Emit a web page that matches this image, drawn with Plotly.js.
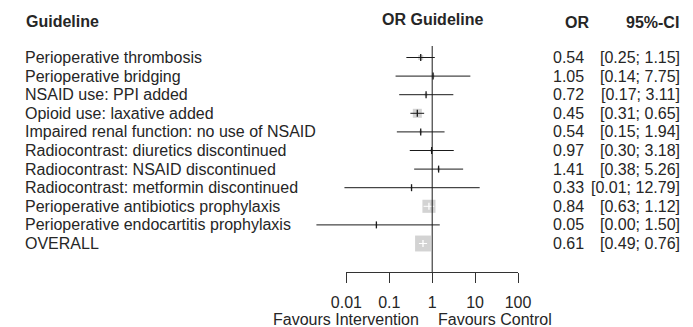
<!DOCTYPE html>
<html>
<head>
<meta charset="utf-8">
<script src="https://cdn.plot.ly/plotly-3.0.1.min.js"></script>
<style>html,body{margin:0;padding:0;background:#fff;}#chart{width:693px;height:327px;}</style>
</head>
<body>
<div id="chart"></div>
<script>
// ---- data ----
const labels = [
  "Perioperative thrombosis",
  "Perioperative bridging",
  "NSAID use: PPI added",
  "Opioid use: laxative added",
  "Impaired renal function: no use of NSAID",
  "Radiocontrast: diuretics discontinued",
  "Radiocontrast: NSAID discontinued",
  "Radiocontrast: metformin discontinued",
  "Perioperative antibiotics prophylaxis",
  "Perioperative endocartitis prophylaxis",
  "OVERALL"
];
const orValues = [0.54, 1.05, 0.72, 0.45, 0.54, 0.97, 1.41, 0.33, 0.84, 0.05, 0.61];
const ciLower  = [0.25, 0.14, 0.17, 0.31, 0.15, 0.30, 0.38, 0.009, 0.63, 0.002, 0.49];
const ciUpper  = [1.15, 7.75, 3.11, 0.65, 1.94, 3.18, 5.26, 12.79, 1.12, 1.50, 0.76];
const weights  = [2.8, 1, 1, 9, 1, 1, 1, 0.45, 19, 0.45, 28];
const tickVals = [0.01, 0.1, 1, 10, 100];
const tickText = ["0.01", "0.1", "1", "10", "100"];

// ---- geometry helpers (pixel layout of the figure) ----
const W = 693, H = 327;
const PX_PER_DEC = 42.9, X_ONE = 432.2;      // pixel of OR=1
const ROW1_Y = 57.5, ROW_STEP = 18.6;
const px = x => x / W;
const py = y => 1 - y / H;
const rowOf = y => 1 + (y - ROW1_Y) / ROW_STEP;
const rows = labels.map((_, i) => i + 1);
const boxSize = weights.map(w => 3 * Math.sqrt(w));
const inside = ciLower.map((lo, i) => Math.log10(ciUpper[i] / lo) * PX_PER_DEC < boxSize[i]);

const FONT = "Liberation Sans, Arial, sans-serif";
const TXT = "#262626";

// ---- traces ----
const traces = [];
// boxes
traces.push({
  type: "scatter", mode: "markers", x: orValues, y: rows,
  marker: {symbol: "square", size: boxSize, color: "#c0c0c0", line: {width: 0}},
  hoverinfo: "skip", showlegend: false
});
// CI lines (black outside, white when inside the box)
function ciTrace(sel, color) {
  const xs = [], ys = [];
  rows.forEach((r, i) => { if (sel(i)) { xs.push(ciLower[i], ciUpper[i], null); ys.push(r, r, null); } });
  return {type: "scatter", mode: "lines", x: xs, y: ys, line: {color: color, width: 1},
          hoverinfo: "skip", showlegend: false};
}
traces.push(ciTrace(i => !inside[i], "#1a1a1a"));
traces.push(ciTrace(i => inside[i], "#ffffff"));
// estimate ticks
function estTrace(sel, color) {
  const xs = [], ys = [];
  rows.forEach((r, i) => { if (sel(i)) { xs.push(orValues[i]); ys.push(r); } });
  return {type: "scatter", mode: "markers", x: xs, y: ys,
          marker: {symbol: "line-ns-open", size: 5, color: color, line: {color: color, width: 1.3}},
          hoverinfo: "skip", showlegend: false};
}
traces.push(estTrace(i => !inside[i], "#1a1a1a"));
traces.push(estTrace(i => inside[i], "#ffffff"));
// empty trace to carry the display axis
traces.push({type: "scatter", x: [], y: [], xaxis: "x2", yaxis: "y", hoverinfo: "skip", showlegend: false});

// ---- annotations ----
const ann = [];
function t(text, x, y, xanchor, opts) {
  ann.push(Object.assign({text: text, x: x, y: y, xref: "paper", yref: "paper",
    xanchor: xanchor, yanchor: "middle", showarrow: false,
    font: {family: FONT, size: 16, color: TXT}}, opts || {}));
}
rows.forEach((r, i) => {
  t(labels[i], px(23), r, "left", {yref: "y"});
  t(orValues[i].toFixed(2), px(586), r, "right", {yref: "y"});
  t("[" + ciLower[i].toFixed(2) + "; " + ciUpper[i].toFixed(2) + "]", px(682), r, "right", {yref: "y"});
});
t("<b>Guideline</b>", px(24), py(21), "left");
t("<b>OR Guideline</b>", px(432.5), py(19), "center");
t("<b>OR</b>", px(577), py(23), "center");
t("<b>95%-CI</b>", px(681), py(23), "right");
t("Favours Intervention", px(421), py(319.5), "right");
t("Favours Control", px(436), py(319.5), "left");

const layout = {
  width: W, height: H,
  margin: {l: 0, r: 0, t: 0, b: 0, pad: 0},
  paper_bgcolor: "#fff", plot_bgcolor: "rgba(0,0,0,0)",
  showlegend: false,
  xaxis: {type: "log", range: [(0 - X_ONE) / PX_PER_DEC, (W - X_ONE) / PX_PER_DEC],
          domain: [0, 1], visible: false, fixedrange: true},
  yaxis: {range: [rowOf(H), rowOf(0)], domain: [0, 1], visible: false, fixedrange: true},
  xaxis2: {type: "log", range: [-2, 2],
           domain: [px(X_ONE - 2 * PX_PER_DEC), px(X_ONE + 2 * PX_PER_DEC)],
           anchor: "free", position: py(272),
           showline: true, linecolor: "#333", linewidth: 1,
           ticks: "outside", ticklen: 10, tickwidth: 1, tickcolor: "#333",
           tickmode: "array", tickvals: tickVals, ticktext: tickText,
           tickfont: {family: FONT, size: 16, color: TXT},
           ticklabelstandoff: 6,
           showgrid: false, zeroline: false, fixedrange: true},
  shapes: [{type: "line", xref: "x", yref: "y", x0: 1, x1: 1, y0: rowOf(46), y1: rowOf(272),
            line: {color: "#1a1a1a", width: 1}}],
  annotations: ann
};

Plotly.newPlot("chart", traces, layout, {staticPlot: true, displayModeBar: false});
</script>
</body>
</html>
